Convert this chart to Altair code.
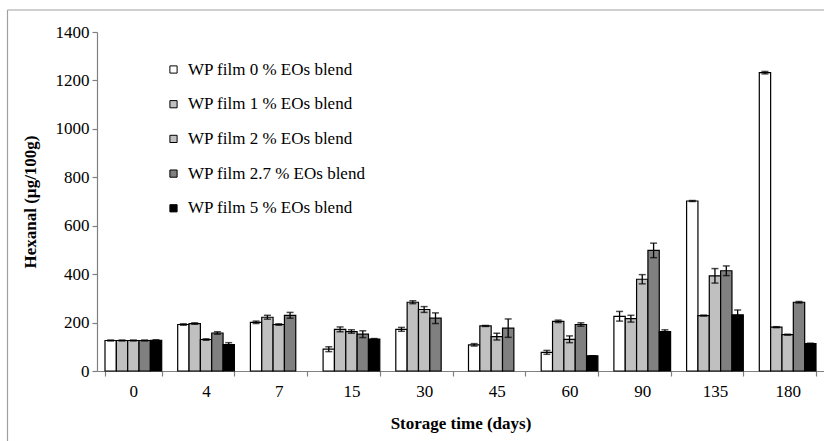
import altair as alt
import pandas as pd

days = ["0", "4", "7", "15", "30", "45", "60", "90", "135", "180"]
series = [
    "WP film 0 % EOs blend",
    "WP film 1 % EOs blend",
    "WP film 2 % EOs blend",
    "WP film 2.7 % EOs blend",
    "WP film 5 %  EOs blend",
]
colors = ["#FFFFFF", "#C0C0C0", "#C0C0C0", "#808080", "#000000"]

# mean values per series (None = no bar)
v0 = [126, 192, 201, 90, 172, 108, 77, 226, 702, 1232]
v1 = [126, 196, 222, 172, 284, 186, 205, 216, 229, 181]
v2 = [126, 130, 192, 163, 254, 142, 131, 379, 393, 150]
v3 = [126, 157, 230, 152, 218, 177, 192, 498, 414, 284]
v4 = [127, 109, None, 132, None, None, 63, 163, 232, 113]
# error (half range)
e0 = [2, 3, 5, 10, 8, 5, 8, 20, 2, 5]
e1 = [2, 3, 8, 10, 6, 2, 5, 14, 2, 2]
e2 = [2, 3, 3, 7, 12, 14, 14, 19, 30, 2]
e3 = [2, 5, 12, 14, 22, 38, 7, 30, 20, 3]
e4 = [2, 8, 0, 2, 0, 0, 0, 7, 20, 2]

vals = [v0, v1, v2, v3, v4]
errs = [e0, e1, e2, e3, e4]
rows = []
for s, vv, ee in zip(series, vals, errs):
    for d, v, e in zip(days, vv, ee):
        if v is None:
            continue
        rows.append({"day": d, "series": s, "value": v, "lo": v - e, "hi": v + e})
df = pd.DataFrame(rows)

FONT = "Liberation Serif"

x_enc = alt.X(
    "day:N",
    sort=days,
    scale=alt.Scale(domain=days, paddingInner=0.22, paddingOuter=0.11),
    axis=alt.Axis(
        title="Storage time  (days)",
        labelAngle=0,
        tickBand="extent",
        tickSize=5,
        labelPadding=7,
        titlePadding=16,
    ),
)
xo_enc = alt.XOffset("series:N", sort=series, scale=alt.Scale(domain=series))

bars = alt.Chart(df).mark_bar(stroke="black", strokeWidth=1.2).encode(
    x=x_enc,
    xOffset=xo_enc,
    y=alt.Y(
        "value:Q",
        scale=alt.Scale(domain=[0, 1400], nice=False),
        axis=alt.Axis(
            title="Hexanal (µg/100g)",
            values=[0, 200, 400, 600, 800, 1000, 1200, 1400],
            format="d",
            tickSize=5,
            labelPadding=3,
            titlePadding=16,
            grid=False,
        ),
    ),
    color=alt.Color(
        "series:N",
        sort=series,
        scale=alt.Scale(domain=series, range=colors),
        legend=alt.Legend(
            title=None,
            orient="none",
            legendX=68,
            legendY=29,
            symbolType="square",
            symbolSize=52,
            symbolStrokeColor="black",
            symbolStrokeWidth=1,
            symbolOpacity=1,
            labelFontSize=17,
            labelFont=FONT,
            labelColor="black",
            labelLimit=400,
            labelOffset=6,
            rowPadding=16.7,
            padding=0,
        ),
    ),
)

rules = alt.Chart(df).mark_rule(color="black", strokeWidth=1.3).encode(
    x=alt.X("day:N", sort=days),
    xOffset=xo_enc,
    y="lo:Q",
    y2="hi:Q",
)
cap_lo = alt.Chart(df).mark_tick(color="black", thickness=1.5, size=7).encode(
    x=alt.X("day:N", sort=days), xOffset=xo_enc, y="lo:Q"
)
cap_hi = alt.Chart(df).mark_tick(color="black", thickness=1.5, size=7).encode(
    x=alt.X("day:N", sort=days), xOffset=xo_enc, y="hi:Q"
)

one = pd.DataFrame({"k": [0]})
frame_left = alt.Chart(one).mark_rule(color="#A0A0A0", strokeWidth=1.2).encode(
    x=alt.value(-89.5), y=alt.value(-22), y2=alt.value(420)
)
frame_top = alt.Chart(one).mark_rule(color="#A0A0A0", strokeWidth=1.2).encode(
    x=alt.value(-89.5), x2=alt.value(740), y=alt.value(-22)
)

chart = (
    alt.layer(frame_left, frame_top, bars, rules, cap_lo, cap_hi)
    .properties(
        width=727,
        height=339,
        background="white",
        autosize=alt.AutoSizeParams(type="none"),
        padding={"left": 97, "top": 32, "right": 0, "bottom": 70},
    )
    .configure_view(stroke=None)
    .configure_axis(
        labelFont=FONT,
        titleFont=FONT,
        labelFontSize=17,
        titleFontSize=17,
        titleFontWeight="bold",
        labelColor="black",
        titleColor="black",
        domainColor="#808080",
        tickColor="#808080",
        domainWidth=1.2,
        tickWidth=1.2,
    )
)

chart.save("out.html", embed_options={"renderer": "svg", "actions": False})
